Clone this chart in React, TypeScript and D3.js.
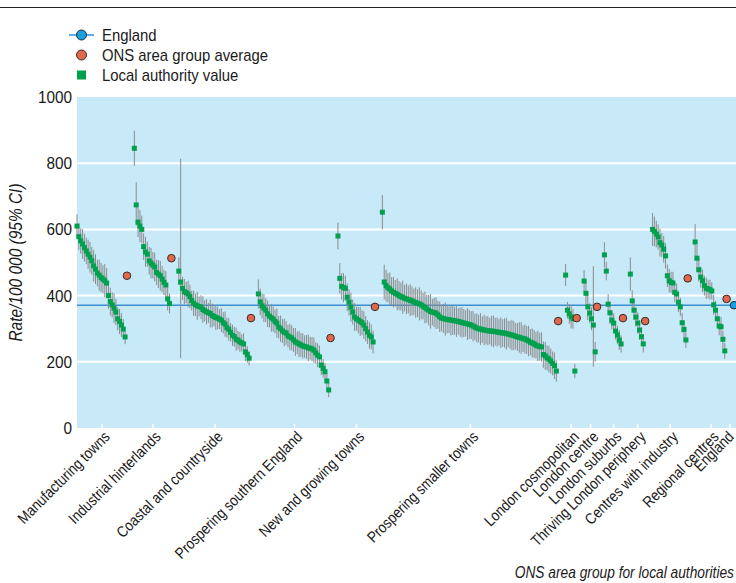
import * as d3 from 'd3';

const W = 736;
const H = 583;
const PLOT = { left: 77, right: 736, top: 97, bottom: 428 };
const FONT = '"Liberation Sans", Arial, sans-serif';

type Ci = number | [number, number];

const groupNames = [
  'Manufacturing towns',
  'Industrial hinterlands',
  'Coastal and countryside',
  'Prospering southern England',
  'New and growing towns',
  'Prospering smaller towns',
  'London cosmopolitan',
  'London centre',
  'London suburbs',
  'Thriving London periphery',
  'Centres with industry',
  'Regional centres',
];

const groupAverages = [460, 513, 332, 272, 366, 323, 332, 366, 332, 323, 452, 390];
const englandValue = 371;
const yTicks = [0, 200, 400, 600, 800, 1000];
const gridTicks = [200, 400, 600, 800];
const legendItems = ['England', 'ONS area group average', 'Local authority value'];

// local authority rates, sorted within each group
const manufacturingTowns = [610, 578, 565, 556, 545, 535, 525, 516, 505, 490, 480, 468, 462, 455, 450, 445, 438, 400, 382, 372, 362, 350, 330, 322, 311, 299, 275];
const manufacturingTownsCi: Ci[] = [36, 40, 38, 45, 42, 40, 44, 46, 42, 48, 45, 40, 47, 44, 42, 50, 45, 40, 42, 38, 45, 40, 35, 38, 36, 30, 22];

const industrialHinterlands = [845, 674, 622, 610, 600, 548, 532, 525, 505, 498, 492, 486, 470, 465, 460, 450, 440, 432, 390, 376];
const industrialHinterlandsCi: Ci[] = [53, [62, 68], 45, 48, 42, 40, 45, 38, 42, 46, 40, 44, 38, 42, 45, 40, 38, 42, 35, 30];

const coastalCountryside = [474, 441, 422, 412, 409, 405, 397, 385, 377, 372, 369, 367, 365, 358, 354, 351, 348, 346, 340, 337, 334, 332, 329, 326, 318, 314, 303, 298, 289, 280, 276, 268, 265, 260, 257, 254, 230, 222, 211];
const coastalCountrysideCi: Ci[] = [42, [230, 372], 35, 38, 32, 40, 36, 30, 38, 34, 42, 30, 36, 40, 32, 38, 30, 42, 36, 30, 38, 34, 30, 36, 32, 38, 30, 34, 28, 32, 30, 35, 28, 30, 26, 32, 28, 25, 22];

const prosperingSouthern = [405, 381, 369, 362, 356, 345, 338, 333, 329, 322, 317, 305, 300, 293, 289, 287, 278, 275, 272, 266, 260, 257, 254, 251, 248, 246, 245, 242, 241, 239, 235, 227, 220, 215, 190, 180, 170, 142, 115];
const prosperingSouthernCi: Ci[] = [44, 40, 38, 42, 36, 40, 34, 42, 38, 36, 44, 34, 40, 36, 42, 36, 34, 40, 38, 36, 42, 34, 40, 36, 38, 34, 36, 40, 34, 36, 38, 32, 36, 34, 30, 28, 26, 24, 22];

const newGrowingTowns = [580, 452, 428, 424, 422, 395, 380, 365, 350, 335, 330, 326, 322, 318, 311, 300, 290, 280, 275, 260];
const newGrowingTownsCi: Ci[] = [40, 46, 40, 44, 38, 42, 40, 44, 38, 42, 36, 40, 44, 38, 42, 38, 36, 40, 38, 34];

const prosperingSmaller = [
  652, 441, 430, 424, 420, 414, 410, 407, 404, 400,
  397, 395, 392, 390, 388, 386, 384, 381, 379, 377,
  375, 372, 368, 364, 360, 356, 352, 350, 349, 347,
  342, 336, 332, 331, 329, 328, 327, 326, 325, 324,
  323, 322, 320, 319, 317, 316, 314, 313, 311, 308,
  305, 302, 300, 299, 297, 296, 295, 294, 293, 293,
  292, 291, 290, 289, 288, 287, 287, 285, 284, 282,
  281, 279, 277, 275, 274, 272, 270, 269, 266, 263,
  259, 257, 254, 250, 248, 246, 245, 222, 218, 212,
  208, 202, 195, 188, 172,
];
const prosperingSmallerCi: Ci[] = [
  52, 52, 48, 44, 50, 42, 46, 40, 48, 44,
  42, 50, 40, 46, 42, 48, 44, 40, 46, 42,
  50, 44, 40, 48, 42, 46, 52, 40, 44, 48,
  42, 46, 40, 44, 50, 42, 40, 46, 44, 42,
  48, 40, 44, 46, 42, 40, 48, 44, 42, 46,
  40, 44, 42, 48, 40, 46, 42, 44, 40, 46,
  48, 42, 44, 40, 46, 42, 44, 48, 40, 42,
  46, 44, 40, 42, 46, 48, 40, 44, 42, 46,
  40, 44, 42, 40, 46, 42, 44, 40, 42, 38,
  40, 38, 36, 40, 32,
];

const londonCosmopolitan = [462, 356, 345, 336, 330, 172];
const londonCosmopolitanCi: Ci[] = [33, 25, 30, 35, 30, 22];

const londonCentre = [444, 407, 366, 347, 330, 311, 230];
const londonCentreCi: Ci[] = [33, 35, 40, 30, 35, [126, 178], 30];

const londonSuburbs = [523, 474, 374, 348, 326, 317, 293, 281, 266, 254];
const londonSuburbsCi: Ci[] = [38, 28, 30, 34, 28, 30, 26, 28, 30, 26];

const thrivingPeriphery = [465, 384, 356, 335, 317, 296, 276, 254];
const thrivingPeripheryCi: Ci[] = [50, 32, 30, 28, 32, 30, 28, 26];

const centresIndustry = [600, 594, 586, 577, 560, 553, 540, 520, 460, 445, 440, 438, 410, 405, 380, 366, 318, 298, 266];
const centresIndustryCi: Ci[] = [50, 45, 40, 38, 42, 36, 40, 38, 34, 36, 32, 34, 30, 32, 30, 28, 30, 26, 24];

const regionalCentres = [562, 513, 478, 456, 445, 430, 422, 420, 418, 414, 372, 356, 330, 308, 306, 268, 233];
const regionalCentresCi: Ci[] = [54, 40, 36, 32, 34, 30, 32, 28, 30, 26, 30, 28, 26, 28, 30, 26, 24];

const groupValues = [
  manufacturingTowns, industrialHinterlands, coastalCountryside, prosperingSouthern,
  newGrowingTowns, prosperingSmaller, londonCosmopolitan, londonCentre,
  londonSuburbs, thrivingPeriphery, centresIndustry, regionalCentres,
];
const groupCis = [
  manufacturingTownsCi, industrialHinterlandsCi, coastalCountrysideCi, prosperingSouthernCi,
  newGrowingTownsCi, prosperingSmallerCi, londonCosmopolitanCi, londonCentreCi,
  londonSuburbsCi, thrivingPeripheryCi, centresIndustryCi, regionalCentresCi,
];

const GAP = 3; // empty slots between groups
const NARROW = 0.86; // squeeze Liberation Sans to a condensed look

export default function App() {
  // lay groups out on a slot index
  let slot = 0;
  const groups = groupNames.map((name, g) => {
    const start = slot;
    const points = groupValues[g].map((v, i) => {
      const c = groupCis[g][i];
      const [lo, hi] = Array.isArray(c) ? c : [c, c];
      return { slot: start + i, value: v, lower: v - lo, upper: v + hi };
    });
    const avgSlot = start + points.length;
    slot = avgSlot + 1 + GAP;
    return { name, points, avgSlot, average: groupAverages[g], start };
  });
  const englandSlot = slot;

  const x = d3.scaleLinear().domain([0, englandSlot]).range([PLOT.left, 734]);
  const y = d3.scaleLinear().domain([0, 1000]).range([PLOT.bottom, PLOT.top]);

  const ticks = [
    ...groups.map((g) => ({ name: g.name, cx: (x(g.start) + x(g.avgSlot)) / 2, off: 5 })),
    { name: 'England', cx: x(englandSlot) - 4, off: 1 },
  ];

  const SQ = 5;

  return (
    <svg width={W} height={H} style={{ position: 'absolute', left: 0, top: 0, background: '#fff' }} fontFamily={FONT}>
      <line x1={0} x2={W} y1={7.5} y2={7.5} stroke="#222" strokeWidth={1} />

      {/* legend */}
      <g>
        <line x1={69} x2={94} y1={35} y2={35} stroke="#2f8fd6" strokeWidth={1.5} />
        <circle cx={81.5} cy={35} r={5} fill="#1a9fe0" stroke="#1d2b3a" strokeWidth={1} />
        <circle cx={81.5} cy={55} r={5} fill="#e0694c" stroke="#3a2a2a" strokeWidth={1} />
        <rect x={77} y={70.5} width={9} height={9} fill="#00a04e" />
        {legendItems.map((label, i) => (
          <text key={label} transform={`translate(102,${41 + i * 20}) scale(0.93,1)`} fontSize={16} fill="#1a1a1a">{label}</text>
        ))}
      </g>

      <rect x={PLOT.left} y={PLOT.top} width={PLOT.right - PLOT.left} height={PLOT.bottom - PLOT.top} fill="#c7e9f8" />

      {gridTicks.map((t) => (
        <line key={t} x1={PLOT.left} x2={PLOT.right} y1={y(t)} y2={y(t)} stroke="#fff" strokeWidth={2} />
      ))}

      {yTicks.map((t) => (
        <text key={t} transform={`translate(72,${y(t)}) scale(0.93,1)`} dy="0.36em" textAnchor="end" fontSize={16.5} fill="#1a1a1a">{t}</text>
      ))}

      <line x1={PLOT.left} x2={PLOT.right} y1={y(englandValue)} y2={y(englandValue)} stroke="#3a8fd2" strokeWidth={1.5} />

      {ticks.map((t) => (
        <line key={t.name} x1={t.cx} x2={t.cx} y1={PLOT.bottom - 4} y2={PLOT.bottom} stroke="#fff" strokeWidth={1.5} />
      ))}

      {groups.map((g) => (
        <g key={g.name}>
          {g.points.map((p) => (
            <line key={'ci' + p.slot} x1={x(p.slot)} x2={x(p.slot)} y1={y(p.lower)} y2={y(p.upper)} stroke="#8c8c8c" strokeWidth={1} />
          ))}
          {g.points.map((p) => (
            <rect key={'pt' + p.slot} x={x(p.slot) - SQ / 2} y={y(p.value) - SQ / 2} width={SQ} height={SQ} fill="#00a04e" />
          ))}
          <circle cx={x(g.avgSlot)} cy={y(g.average)} r={3.8} fill="#e0694c" stroke="#3a2a2a" strokeWidth={1} />
        </g>
      ))}

      <circle cx={x(englandSlot)} cy={y(englandValue)} r={3.8} fill="#1a9fe0" stroke="#1d2b3a" strokeWidth={1} />

      {ticks.map((t) => (
        <text key={'lab' + t.name} transform={`translate(${t.cx + t.off},${PLOT.bottom + 6}) rotate(-45) scale(${NARROW},1)`} textAnchor="end" dy="0.35em" fontSize={15.5} fill="#1a1a1a">
          {t.name}
        </text>
      ))}

      <text transform={`translate(22,${(PLOT.top + PLOT.bottom) / 2}) rotate(-90) scale(${NARROW},1)`} textAnchor="middle" fontSize={18} fontStyle="italic" fill="#1a1a1a">
        Rate/100 000 (95% CI)
      </text>
      <text transform={`translate(734,578) scale(${NARROW},1)`} textAnchor="end" fontSize={16} fontStyle="italic" fill="#1a1a1a">
        ONS area group for local authorities
      </text>
    </svg>
  );
}
